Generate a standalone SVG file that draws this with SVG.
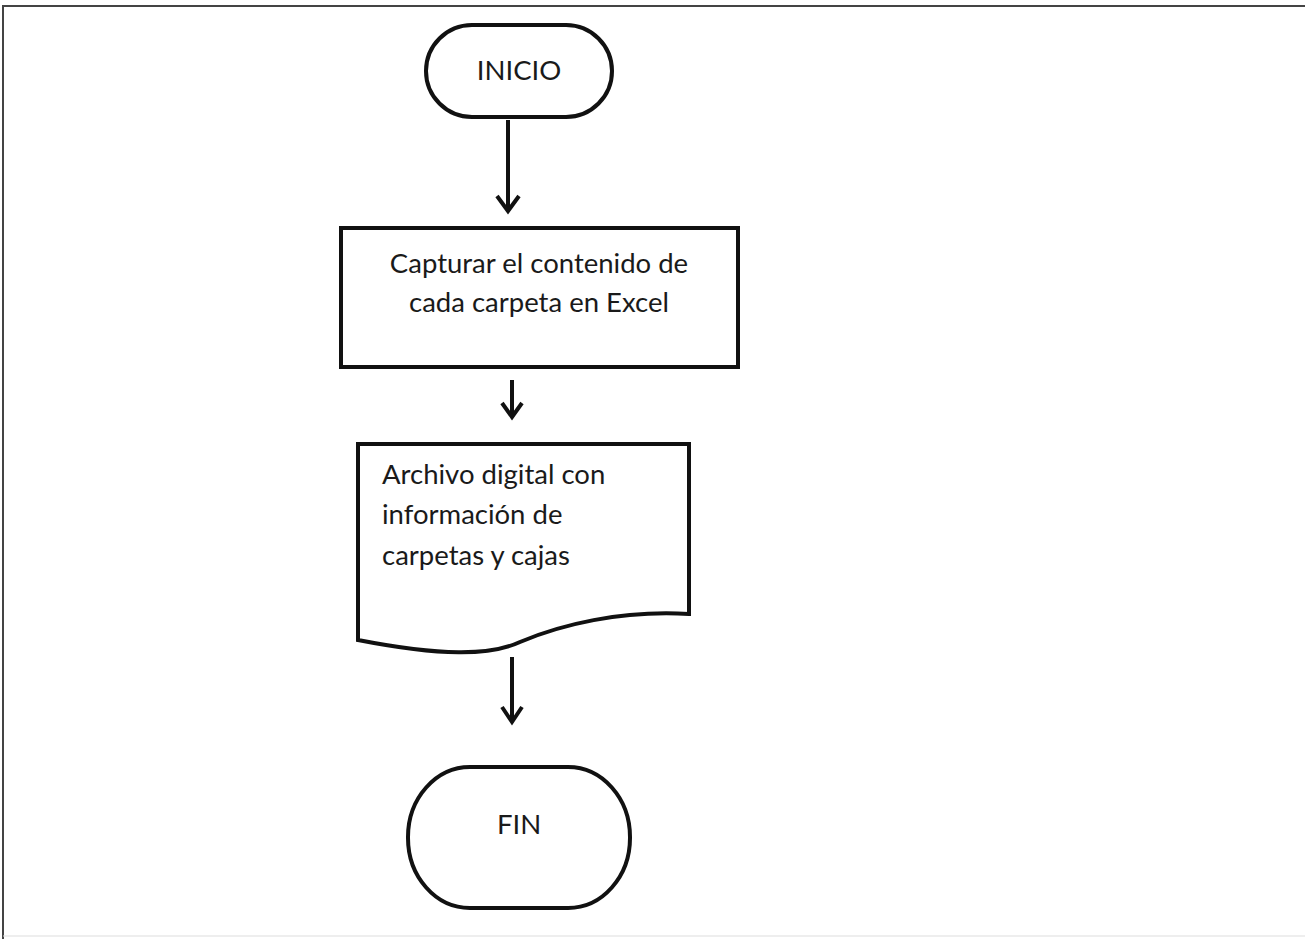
<svg xmlns="http://www.w3.org/2000/svg" width="1305" height="939" viewBox="0 0 1305 939">
  <style>
    .shape { fill: #ffffff; stroke: #111111; stroke-width: 4; }
    .conn { fill: none; stroke: #111111; stroke-width: 4; stroke-linecap: butt; stroke-linejoin: miter; }
    .lbl { font-family: Lato, "Open Sans", "Liberation Sans", sans-serif; fill: #1a1a1a; font-size: 27.5px; }
    .frame { fill: none; stroke: #444444; stroke-width: 2; }
  </style>
  <rect width="1305" height="939" fill="#ffffff"/>
  <!-- page frame -->
  <path class="frame" d="M3,939 L3,6 L1305,6"/>
  <line x1="3" y1="936" x2="1305" y2="936" stroke="#dddddd" stroke-width="1"/>

  <g id="inicio">
    <rect class="shape" x="426" y="25" width="186" height="92" rx="46" ry="46"/>
    <text class="lbl" x="519" y="80" text-anchor="middle" font-size="24">INICIO</text>
  </g>

  <g id="capturar">
    <rect class="shape" x="341" y="228" width="397" height="139"/>
    <text class="lbl" x="539" y="273" text-anchor="middle">Capturar el contenido de</text>
    <text class="lbl" x="539" y="312" text-anchor="middle">cada carpeta en Excel</text>
  </g>

  <g id="archivo">
    <path class="shape" d="M358,444 L689,444 L689,614 C620,610 560,625 520,642 C490,656 440,656 358,640 Z"/>
    <text class="lbl" x="382" y="484" font-size="27">Archivo digital con</text>
    <text class="lbl" x="382" y="524" font-size="27">información de</text>
    <text class="lbl" x="382" y="565" font-size="27">carpetas y cajas</text>
  </g>

  <g id="fin">
    <rect class="shape" x="408" y="767" width="222" height="141" rx="62" ry="70"/>
    <text class="lbl" x="519" y="834" text-anchor="middle" font-size="24">FIN</text>
  </g>

  <g id="connectors">
    <path class="conn" d="M508,120 L508,211"/>
    <path class="conn" d="M497,196 L508,211 L519,196"/>
    <path class="conn" d="M512,380 L512,417"/>
    <path class="conn" d="M502,403 L512,417 L522,403"/>
    <path class="conn" d="M512,657 L512,722"/>
    <path class="conn" d="M502,707 L512,722 L522,707"/>
  </g>
</svg>
